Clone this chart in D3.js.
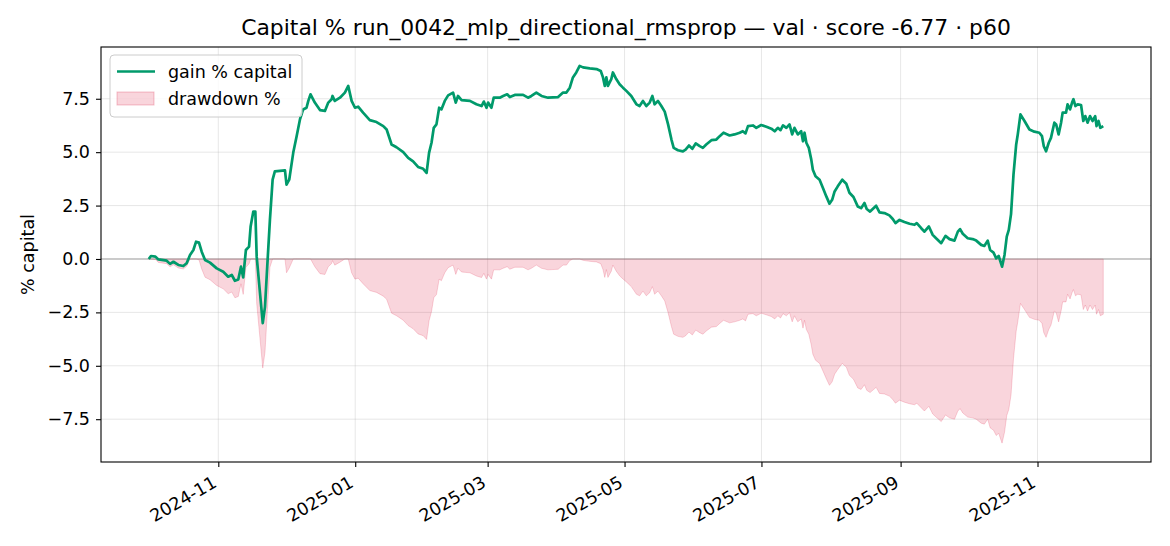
<!DOCTYPE html>
<html>
<head>
<meta charset="utf-8">
<script src="https://cdn.jsdelivr.net/npm/d3@7"></script>
<style>
  html, body { margin: 0; padding: 0; background: #fff; }
  svg { display: block; font-family: "DejaVu Sans", sans-serif; }
</style>
</head>
<body>
<div id="chart"></div>
<script>
// run start, then days since start and gain % capital
var startDate = "2024-10-01";

var days = [
  0, 1, 3, 4.3, 8, 9.5, 11, 13.2, 15.4, 16.9, 18.4, 19.9, 21.1, 22.4, 23.6, 25.1, 27.3, 30.3, 33.2, 35.4,
  37, 38.4, 39.9, 41.1, 42.1, 43.3, 44.7, 45.4, 46.6, 47.5, 48.1, 50.8, 51.8, 52.8, 54, 55.2, 56.2, 60.7, 61.4, 62.6,
  64.4, 65.9, 67.4, 68.8, 70.3, 71.1, 72.1, 74, 76.3, 78.5, 80, 81.5, 81.9, 82.9, 85.2, 87.4, 88.9, 90.4, 91.9, 93.3,
  95.5, 98.5, 101.5, 104.5, 106, 108.2, 110.4, 113.4, 115.6, 117.8, 120, 122.3, 123.8, 124.9, 126, 127, 128.2, 129.4, 130.4, 131.9,
  133.4, 135.6, 136.8, 137.8, 139.4, 143.1, 146, 148.3, 149.3, 150.5, 151.2, 152.7, 153.7, 156.4, 157.9, 159.7, 160.9, 163.1, 166.8, 169,
  170.5, 172.7, 175, 177.9, 182.4, 184.6, 186.1, 187.6, 189, 190.5, 192, 193.5, 196.5, 199.5, 201.4, 202.4, 203.2, 203.9, 204.6, 206.1,
  206.8, 208.3, 209.8, 211.3, 212.8, 215, 217.3, 218.7, 220.2, 221.7, 223.2, 224.4, 225.4, 226.9, 228.4, 229.9, 231.4, 232.9, 233.9, 235.8,
  238, 239.2, 240.7, 242.2, 243.7, 245.5, 246.9, 248.4, 250.7, 252.9, 254.4, 256.1, 258.8, 261, 263.3, 264.7, 265.9, 267, 269.2, 270.7,
  272.9, 275.2, 277.4, 278.9, 280.3, 281.5, 282.6, 284.1, 285.5, 286.7, 287.7, 289.2, 290.7, 291.5, 292.2, 293, 294.1, 295.2, 295.9, 297.1,
  298.9, 300.4, 301.9, 303.3, 304.5, 305.6, 307, 309, 310.8, 312.2, 314, 315.9, 317.4, 318.9, 319.9, 321.4, 324.1, 325.6, 327.8, 330,
  331.5, 332.7, 334.5, 336.7, 339, 341.2, 342.2, 344.2, 345.6, 347.6, 349.3, 350.8, 353.1, 355, 356.8, 359, 360.5, 361.5, 362.7, 364.9,
  367.1, 368.7, 370.9, 372.3, 373.8, 374.9, 376.4, 377.6, 378.7, 380.2, 381.3, 382.3, 383.2, 384.2, 385.3, 386.5, 387.2, 388.4, 390.2, 392.4,
  394.6, 396.8, 398, 398.8, 399.8, 401, 402, 403.5, 404.3, 405.4, 406.5, 407.2, 408.7, 409.4, 410.5, 411.4, 412, 412.9, 413.9, 415.4,
  416.4, 417.3, 418.3, 419.4, 420.5, 421.7, 422.3, 423.2, 424, 425.3
];

var gain = [
  0, 0.14, 0.11, -0.02, -0.08, -0.23, -0.13, -0.28, -0.33, -0.2, 0.19, 0.42, 0.81, 0.77, 0.34, -0.05, -0.17, -0.44, -0.6, -0.83,
  -0.75, -1.02, -0.96, -0.36, -0.86, 0.42, 0.58, 1.52, 2.22, 2.22, 0.11, -3.0, -2.24, -0.36, 1.83, 3.71, 4.1, 4.15, 3.48, 3.71,
  4.98, 5.75, 6.54, 7.0, 7.08, 7.4, 7.71, 7.32, 6.97, 6.93, 7.32, 7.48, 7.63, 7.4, 7.55, 7.79, 8.1, 7.4, 7.08, 7.13,
  6.85, 6.5, 6.41, 6.22, 6.06, 5.36, 5.23, 5.0, 4.73, 4.57, 4.31, 4.22, 4.03, 4.97, 5.44, 6.14, 6.3, 7.08, 7.0, 7.4,
  7.66, 7.79, 7.32, 7.63, 7.44, 7.4, 7.24, 7.16, 7.37, 7.08, 7.32, 7.08, 7.55, 7.55, 7.63, 7.71, 7.58, 7.68, 7.68, 7.55,
  7.63, 7.79, 7.63, 7.55, 7.58, 7.79, 7.79, 8.02, 8.5, 8.73, 9.04, 8.97, 8.92, 8.89, 8.8, 8.5, 8.1, 8.5, 8.1, 8.42,
  8.73, 8.42, 8.18, 8.02, 7.87, 7.63, 7.24, 7.16, 7.4, 7.16, 7.32, 7.63, 7.24, 7.4, 7.16, 6.9, 6.3, 5.59, 5.2, 5.09,
  5.04, 5.12, 5.31, 5.16, 5.41, 5.28, 5.2, 5.36, 5.56, 5.59, 5.75, 5.91, 5.78, 5.83, 5.91, 5.98, 5.88, 6.22, 6.25, 6.14,
  6.27, 6.19, 6.1, 5.98, 6.14, 6.03, 6.25, 6.14, 6.3, 5.83, 6.14, 5.83, 5.98, 5.51, 5.91, 5.44, 5.2, 4.65, 4.18, 3.87,
  3.71, 3.32, 2.93, 2.59, 2.77, 3.16, 3.4, 3.71, 3.52, 3.1, 2.9, 2.46, 2.38, 2.62, 2.34, 2.22, 2.49, 2.18, 2.15, 2.04,
  1.87, 1.68, 1.83, 1.73, 1.65, 1.6, 1.68, 1.44, 1.28, 1.52, 1.13, 0.97, 0.74, 1.08, 0.93, 0.86, 1.28, 1.4, 1.18, 0.97,
  0.93, 0.86, 0.66, 0.61, 0.86, 0.42, 0.3, 0.03, 0.14, -0.36, 0.19, 1.05, 1.36, 2.1, 3.95, 5.36, 5.83, 6.77, 6.46, 6.06,
  5.96, 5.91, 5.75, 5.28, 5.04, 5.44, 5.67, 6.38, 6.3, 5.83, 6.38, 6.85, 6.85, 7.24, 7.0, 7.32, 7.48, 7.16, 7.24, 7.21,
  6.46, 6.69, 6.38, 6.69, 6.46, 6.69, 6.22, 6.46, 6.14, 6.22
];

var xTicks = ["2024-11-01", "2025-01-01", "2025-03-01", "2025-05-01", "2025-07-01", "2025-09-01", "2025-11-01"];
var yTicks = [-7.5, -5.0, -2.5, 0.0, 2.5, 5.0, 7.5];

var title = "Capital % run_0042_mlp_directional_rmsprop \u2014 val \u00b7 score -6.77 \u00b7 p60";
var seriesNames = ["gain % capital", "drawdown %"];

var width = 1170, height = 546;
var plotLeft = 101, plotRight = 1151, plotTop = 47, plotBottom = 462;
var green = "#009a6b", pink = "crimson";
var fontSize = 17.5;

var parse = d3.timeParse("%Y-%m-%d");
var t0 = parse(startDate);

// drawdown relative to the running peak of capital
var data = [], peak = -Infinity;
days.forEach(function(d, i) {
  peak = Math.max(peak, gain[i]);
  data.push({
    date: new Date(t0.getTime() + d * 864e5),
    gain: gain[i],
    dd: ((1 + gain[i] / 100) / (1 + peak / 100) - 1) * 100
  });
});

var xExt = d3.extent(data, function(d) { return d.date; });
var xPad = (xExt[1] - xExt[0]) * 0.05;
var yMin = d3.min(data, function(d) { return Math.min(d.gain, d.dd); });
var yMax = d3.max(data, function(d) { return Math.max(d.gain, d.dd); });
var yPad = (yMax - yMin) * 0.05;

var x = d3.scaleTime()
  .domain([new Date(+xExt[0] - xPad), new Date(+xExt[1] + xPad)])
  .range([plotLeft, plotRight]);
var y = d3.scaleLinear()
  .domain([yMin - yPad, yMax + yPad])
  .range([plotBottom, plotTop]);

var svg = d3.select('#chart').append('svg')
  .attr('width', width)
  .attr('height', height);

// grid
var grid = svg.append('g').attr('stroke', '#b0b0b0').attr('stroke-opacity', 0.3).attr('stroke-width', 1);
grid.selectAll('line.gx').data(xTicks).enter().append('line')
  .attr('x1', function(d) { return x(parse(d)); })
  .attr('x2', function(d) { return x(parse(d)); })
  .attr('y1', plotTop).attr('y2', plotBottom);
grid.selectAll('line.gy').data(yTicks).enter().append('line')
  .attr('x1', plotLeft).attr('x2', plotRight)
  .attr('y1', function(d) { return y(d); })
  .attr('y2', function(d) { return y(d); });

// drawdown area
var area = d3.area()
  .x(function(d) { return x(d.date); })
  .y0(y(0))
  .y1(function(d) { return y(d.dd); });
svg.append('path').datum(data)
  .attr('d', area)
  .attr('fill', pink).attr('fill-opacity', 0.18)
  .attr('stroke', pink).attr('stroke-opacity', 0.18).attr('stroke-width', 1);

// zero line
svg.append('line')
  .attr('x1', plotLeft).attr('x2', plotRight)
  .attr('y1', y(0)).attr('y2', y(0))
  .attr('stroke', '#808080').attr('stroke-opacity', 0.7).attr('stroke-width', 1.1);

// gain line
var line = d3.line()
  .x(function(d) { return x(d.date); })
  .y(function(d) { return y(d.gain); });
svg.append('path').datum(data)
  .attr('d', line)
  .attr('fill', 'none')
  .attr('stroke', green).attr('stroke-width', 2.7)
  .attr('stroke-linejoin', 'round');

// frame
svg.append('rect')
  .attr('x', plotLeft).attr('y', plotTop)
  .attr('width', plotRight - plotLeft).attr('height', plotBottom - plotTop)
  .attr('fill', 'none').attr('stroke', '#000').attr('stroke-width', 1.1);

// y axis
var yAxis = svg.append('g')
  .attr('transform', 'translate(' + plotLeft + ',0)')
  .call(d3.axisLeft(y).tickValues(yTicks).tickFormat(d3.format('.1f')).tickSizeOuter(0).tickSize(5).tickPadding(6));
yAxis.select('.domain').remove();
yAxis.selectAll('text').attr('font-size', fontSize).attr('fill', '#000').attr('font-family', 'DejaVu Sans');
yAxis.selectAll('line').attr('stroke', '#000').attr('stroke-width', 1.1);

// x axis
var xAxis = svg.append('g')
  .attr('transform', 'translate(0,' + plotBottom + ')')
  .call(d3.axisBottom(x).tickValues(xTicks.map(parse)).tickFormat(d3.timeFormat('%Y-%m')).tickSizeOuter(0).tickSize(5));
xAxis.select('.domain').remove();
xAxis.selectAll('line').attr('stroke', '#000').attr('stroke-width', 1.1);
xAxis.selectAll('text')
  .attr('font-size', fontSize).attr('fill', '#000').attr('font-family', 'DejaVu Sans')
  .attr('text-anchor', 'end')
  .attr('dy', null)
  .attr('y', 0)
  .attr('transform', 'translate(-1,24) rotate(-30)');

// labels
svg.append('text')
  .attr('x', (plotLeft + plotRight) / 2).attr('y', 35)
  .attr('text-anchor', 'middle')
  .attr('font-size', 21.9)
  .text(title);

svg.append('text')
  .attr('transform', 'translate(34,' + (plotTop + plotBottom) / 2 + ') rotate(-90)')
  .attr('text-anchor', 'middle')
  .attr('font-size', fontSize)
  .text('% capital');

// legend
var legend = svg.append('g');
legend.append('rect')
  .attr('x', 110).attr('y', 55).attr('width', 192).attr('height', 62).attr('rx', 4)
  .attr('fill', '#fff').attr('fill-opacity', 0.8)
  .attr('stroke', '#cccccc').attr('stroke-width', 1);
legend.append('line')
  .attr('x1', 117).attr('x2', 155).attr('y1', 71.5).attr('y2', 71.5)
  .attr('stroke', green).attr('stroke-width', 2.7);
legend.append('rect')
  .attr('x', 117).attr('y', 92).attr('width', 37).attr('height', 13)
  .attr('fill', pink).attr('fill-opacity', 0.18)
  .attr('stroke', pink).attr('stroke-opacity', 0.25).attr('stroke-width', 1);
legend.selectAll('text.item').data(seriesNames).enter().append('text')
  .attr('x', 168)
  .attr('y', function(d, i) { return 77.5 + i * 27; })
  .attr('font-size', fontSize)
  .text(function(d) { return d; });
</script>
</body>
</html>
